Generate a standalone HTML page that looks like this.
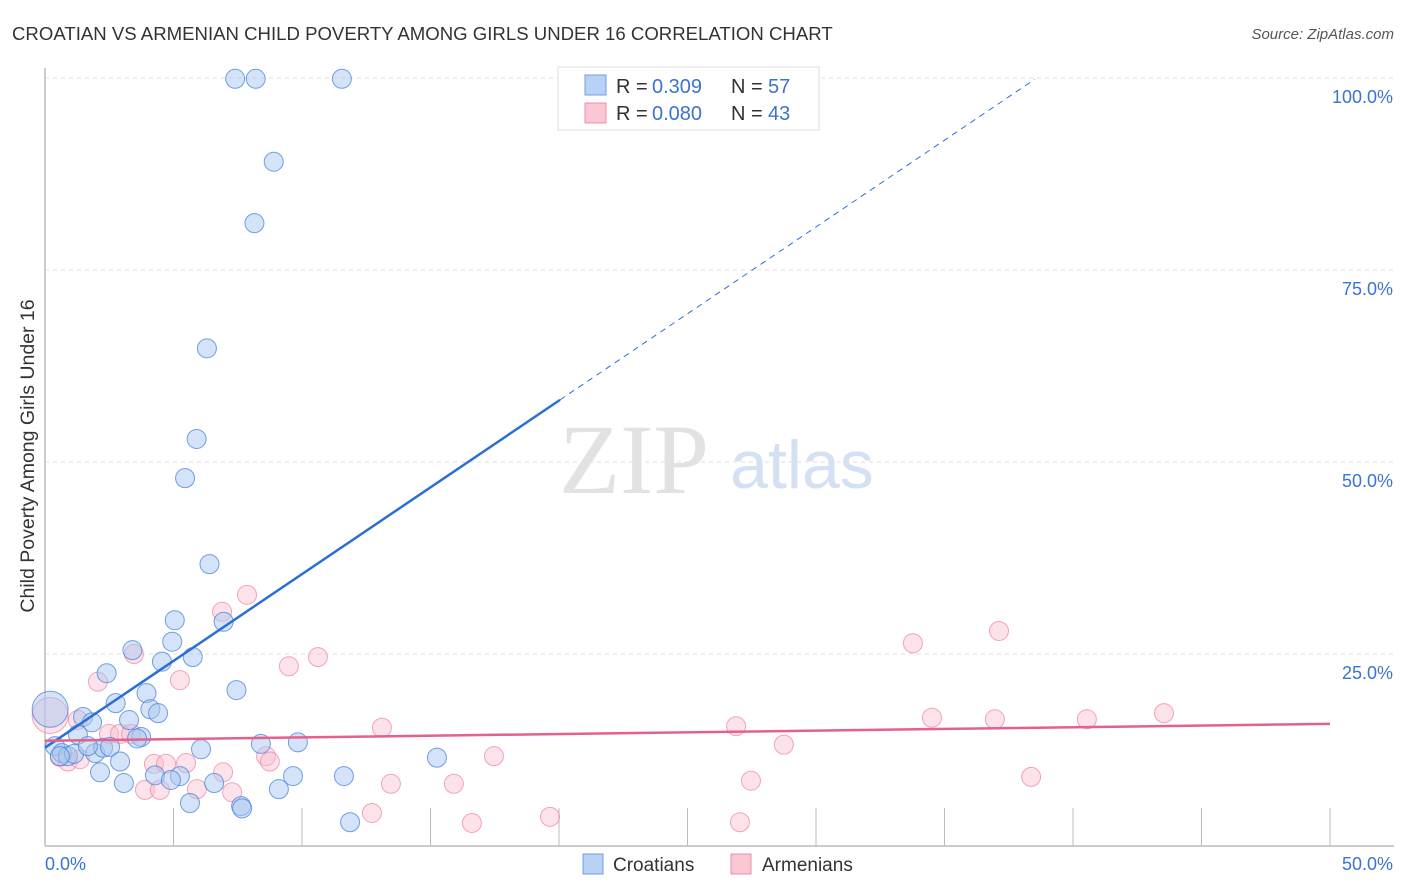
<!DOCTYPE html>
<html><head><meta charset="utf-8"><style>
body{margin:0;background:#fff;font-family:"Liberation Sans",sans-serif;}
svg{display:block}
</style></head><body>
<svg id="chart" width="1406" height="892">
<text x="12" y="40" font-size="18.6" fill="#333">CROATIAN VS ARMENIAN CHILD POVERTY AMONG GIRLS UNDER 16 CORRELATION CHART</text>
<text x="1394" y="39" font-size="15" fill="#555" font-style="italic" text-anchor="end">Source: ZipAtlas.com</text>
<text transform="translate(34,456) rotate(-90)" font-size="19.5" fill="#333" text-anchor="middle">Child Poverty Among Girls Under 16</text>
<g id="grid"></g>
<g id="axes"></g>
<text x="634" y="493" font-size="100" fill="#e2e2e2" font-family="Liberation Serif,serif" text-anchor="middle">ZIP</text>
<text x="802" y="488" font-size="68" fill="#d3e1f3" text-anchor="middle">atlas</text>
<g id="pts"></g>
<g id="lines"></g>
<g>
<rect x="558" y="67" width="261" height="63" fill="#fff" stroke="#ddd"/>
<rect x="585" y="75" width="21" height="20" fill="#b7d2f5" stroke="#6f9fe0"/>
<rect x="585" y="103" width="21" height="20" fill="#f9c6d4" stroke="#ec8fab"/>
<text x="616" y="93" font-size="20" fill="#333">R =</text><text x="652" y="93" font-size="20" fill="#3b73d0">0.309</text>
<text x="731" y="93" font-size="20" fill="#333">N =</text><text x="768" y="93" font-size="20" fill="#3b73d0">57</text>
<text x="616" y="120" font-size="20" fill="#333">R =</text><text x="652" y="120" font-size="20" fill="#3b73d0">0.080</text>
<text x="731" y="120" font-size="20" fill="#333">N =</text><text x="768" y="120" font-size="20" fill="#3b73d0">43</text>
</g>
<g>
<rect x="583" y="854" width="20" height="20" fill="#b7d2f5" stroke="#6f9fe0"/>
<text x="613" y="871" font-size="19" fill="#333">Croatians</text>
<rect x="731" y="854" width="20" height="20" fill="#f9c6d4" stroke="#ec8fab"/>
<text x="762" y="871" font-size="19" fill="#333">Armenians</text>
</g>
</svg>
<script>
const xTicks=[0,50];
const yTicks=[25,50,75,100];
const croatX=[7.4,8.2,11.55,8.9,8.15,6.3,5.9,5.45,6.4,5.05,6.95,4.95,3.4,4.55,5.75,2.4,7.45,3.95,2.75,4.1,4.4,1.48,1.83,3.27,1.28,3.74,3.58,0.2,0.39,0.66,0.89,1.13,1.95,2.26,2.53,2.92,2.14,3.07,4.28,5.25,6.07,6.58,8.4,9.84,9.65,11.63,9.1,7.63,7.67,5.64,11.87,15.25,4.9,1.67,0.58];
const croatY=[99.9,99.9,99.9,89.1,81.1,64.8,53,47.9,36.7,29.4,29.2,26.6,25.5,24,24.6,22.5,20.3,19.9,18.6,17.8,17.3,16.8,16.1,16.4,14.5,14.2,14,17.8,13,12.1,11.7,12,12.1,12.8,12.9,11,9.6,8.2,9.2,9.1,12.6,8.2,13.3,13.5,9.1,9.1,7.4,5.2,4.9,5.6,3.1,11.5,8.6,13,11.7];
const armX=[0.2,0.58,0.89,1.36,3.46,2.06,5.25,7.86,6.89,9.49,10.62,2.49,2.92,3.35,1.28,4.24,5.49,6.93,3.89,4.47,5.91,7.28,8.6,8.75,13.11,13.46,12.72,15.91,16.61,17.47,19.65,26.89,27.47,27.04,28.75,33.77,37.12,34.51,36.96,40.54,43.54,38.37,4.71];
const armY=[17,11.6,11,11.3,25,21.4,21.6,32.7,30.5,23.4,24.6,14.6,14.6,14.6,16.4,10.7,10.8,9.6,7.3,7.3,7.4,7,11.7,11,15.4,8.1,4.3,8.1,3,11.7,3.8,15.6,8.5,3.1,13.2,26.4,28,16.7,16.5,16.5,17.3,9,10.7];
const blueLine=[12.8,2.26];
const pinkLine=[13.7,15.9];
const X=v=>45+v*25.7, Y=v=>846-v*7.68;
const NS="http://www.w3.org/2000/svg";
function mk(t,a,p){const e=document.createElementNS(NS,t);for(const k in a)e.setAttribute(k,a[k]);p.appendChild(e);return e;}
const grid=document.getElementById('grid'),axes=document.getElementById('axes'),pts=document.getElementById('pts'),lines=document.getElementById('lines');
yTicks.forEach(t=>{
 const l=mk('line',{x1:45,x2:1394,y1:Y(t),y2:Y(t),stroke:'#ddd','stroke-dasharray':'4,4'},grid);
 
 
 const tx=mk('text',{x:1393,y:Y(t)+25,'font-size':18,fill:'#3b73d0','text-anchor':'end'},axes);tx.textContent=t.toFixed(1)+'%';
 
 
});
mk('line',{x1:45,x2:45,y1:68,y2:846,stroke:'#bbb','stroke-width':1.5},axes);
mk('line',{x1:45,x2:1394,y1:846,y2:846,stroke:'#bbb','stroke-width':1.5},axes);
for(let i=1;i<=10;i++){mk('line',{x1:X(i*5),x2:X(i*5),y1:808,y2:846,stroke:'#bbb'},axes);}
xTicks.forEach((t,i)=>{const tx=mk('text',{x:i?1393:45,y:870,'font-size':18,fill:'#3b73d0','text-anchor':i?'end':'start'},axes);tx.textContent=t.toFixed(1)+'%';
 
 });
armX.forEach((x,i)=>{const c=mk('circle',{cx:X(x),cy:Y(armY[i]),r:i==0?18:9.5,fill:'rgba(249,190,206,0.45)',stroke:'rgba(236,130,160,0.7)'},pts);
 
 });
croatX.forEach((x,i)=>{const c=mk('circle',{cx:X(x),cy:Y(croatY[i]),r:x==0.2?18:9.5,fill:'rgba(170,200,240,0.5)',stroke:'rgba(70,130,220,0.75)'},pts);
 
 });
const bx1=20.04, bx2=38.5;
let l1=mk('line',{x1:X(0),y1:Y(blueLine[0]),x2:X(bx1),y2:Y(blueLine[0]+blueLine[1]*bx1),stroke:'#2a6fd6','stroke-width':2.5},lines);


let l2=mk('line',{x1:X(bx1),y1:Y(blueLine[0]+blueLine[1]*bx1),x2:X(bx2),y2:Y(blueLine[0]+blueLine[1]*bx2),stroke:'#2a6fd6','stroke-width':1,'stroke-dasharray':'6,5'},lines);


let l3=mk('line',{x1:X(0),y1:Y(pinkLine[0]),x2:X(50),y2:Y(pinkLine[1]),stroke:'#e5608a','stroke-width':2.5},lines);


</script>
</body></html>
